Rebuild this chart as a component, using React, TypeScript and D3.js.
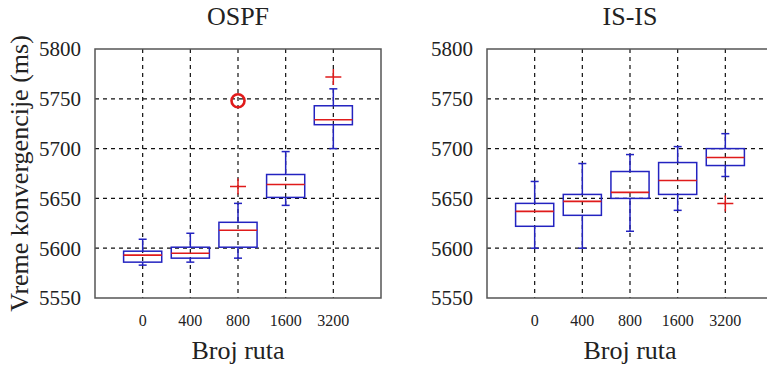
import React from 'react';
import * as d3 from 'd3';

// x categories (number of routes)
const categories = ['0', '400', '800', '1600', '3200'];
const yTicks = [5550, 5600, 5650, 5700, 5750, 5800];

// OSPF box statistics (ms)
const ospfLow = [5583, 5586, 5590, 5643, 5700];
const ospfQ1 = [5586, 5590, 5601, 5651, 5724];
const ospfMedian = [5593, 5595, 5618, 5664, 5729];
const ospfQ3 = [5597, 5601, 5626, 5674, 5743];
const ospfHigh = [5609, 5615, 5645, 5697, 5760];
const ospfOutliers = [[], [], [5662], [], [5772]];
const ospfCircle = { cat: 2, value: 5748 };

// IS-IS box statistics (ms)
const isisLow = [5600, 5600, 5617, 5638, 5672];
const isisQ1 = [5622, 5633, 5650, 5654, 5683];
const isisMedian = [5637, 5647, 5656, 5668, 5691];
const isisQ3 = [5645, 5654, 5677, 5686, 5700];
const isisHigh = [5667, 5685, 5694, 5702, 5715];
const isisOutliers = [[], [], [], [], [5645]];

const FONT = '"Liberation Serif", "DejaVu Serif", serif';
const BLUE = '#2323c0';
const RED = '#e01b1b';

type Panel = {
  title: string;
  left: number;
  low: number[];
  q1: number[];
  median: number[];
  q3: number[];
  high: number[];
  outliers: number[][];
  circle?: { cat: number; value: number };
};

const top = 49;
const bottom = 298;
const plotW = 286;

function BoxPanel({ p }: { p: Panel }) {
  const x = d3.scaleLinear().domain([0, 6]).range([p.left, p.left + plotW]);
  const y = d3.scaleLinear().domain([5550, 5800]).range([bottom, top]);
  const boxW = x(0.8) - x(0);
  const cap = 4;
  const cx = (i: number) => x(i + 1);

  return (
    <g>
      {/* grid */}
      {yTicks.slice(1, -1).map(t => (
        <line key={'gy' + t} x1={x(0)} x2={x(6)} y1={y(t)} y2={y(t)}
          stroke="#111" strokeWidth={1.2} strokeDasharray="4,4" />
      ))}
      {categories.map((c, i) => (
        <line key={'gx' + c} x1={cx(i)} x2={cx(i)} y1={y(5800)} y2={y(5550)}
          stroke="#111" strokeWidth={1.2} strokeDasharray="4,4" />
      ))}
      {/* frame */}
      <rect x={x(0)} y={top} width={plotW} height={bottom - top}
        fill="none" stroke="#555" strokeWidth={1.5} />
      {/* boxes */}
      {categories.map((c, i) => (
        <g key={'b' + c}>
          <line x1={cx(i)} x2={cx(i)} y1={y(p.high[i])} y2={y(p.q3[i])} stroke={BLUE} strokeWidth={1.5} />
          <line x1={cx(i)} x2={cx(i)} y1={y(p.q1[i])} y2={y(p.low[i])} stroke={BLUE} strokeWidth={1.5} />
          <line x1={cx(i) - cap} x2={cx(i) + cap} y1={y(p.high[i])} y2={y(p.high[i])} stroke={BLUE} strokeWidth={1.5} />
          <line x1={cx(i) - cap} x2={cx(i) + cap} y1={y(p.low[i])} y2={y(p.low[i])} stroke={BLUE} strokeWidth={1.5} />
          <rect x={cx(i) - boxW / 2} y={y(p.q3[i])} width={boxW} height={y(p.q1[i]) - y(p.q3[i])}
            fill="none" stroke={BLUE} strokeWidth={1.5} />
          <line x1={cx(i) - boxW / 2} x2={cx(i) + boxW / 2} y1={y(p.median[i])} y2={y(p.median[i])}
            stroke={RED} strokeWidth={1.6} />
          {p.outliers[i].map((v, k) => (
            <path key={k} d={`M${cx(i) - 8},${y(v)}H${cx(i) + 8}M${cx(i)},${y(v) - 8}V${y(v) + 8}`}
              stroke={RED} strokeWidth={1.5} fill="none" />
          ))}
        </g>
      ))}
      {p.circle && (
        <circle cx={cx(p.circle.cat)} cy={y(p.circle.value)} r={6.5}
          fill="none" stroke={RED} strokeWidth={2.6} />
      )}
      {/* y ticks */}
      {yTicks.map(t => (
        <text key={'ty' + t} x={x(0) - 14} y={y(t)} dy="0.35em" textAnchor="end"
          fontFamily={FONT} fontSize={21} fill="#222">{t}</text>
      ))}
      {/* x ticks */}
      {categories.map((c, i) => (
        <text key={'tx' + c} x={cx(i)} y={326} textAnchor="middle"
          fontFamily={FONT} fontSize={16} fill="#222">{c}</text>
      ))}
      <text x={x(3)} y={25} textAnchor="middle" fontFamily={FONT} fontSize={26} fill="#222">{p.title}</text>
      <text x={x(3)} y={359} textAnchor="middle" fontFamily={FONT} fontSize={26} fill="#222">Broj ruta</text>
    </g>
  );
}

const panels: Panel[] = [
  { title: 'OSPF', left: 95, low: ospfLow, q1: ospfQ1, median: ospfMedian, q3: ospfQ3, high: ospfHigh, outliers: ospfOutliers, circle: ospfCircle },
  { title: 'IS-IS', left: 487, low: isisLow, q1: isisQ1, median: isisMedian, q3: isisQ3, high: isisHigh, outliers: isisOutliers },
];

export default function App() {
  return (
    <svg width={767} height={368} style={{ position: 'absolute', left: 0, top: 0, background: '#fff' }}>
      {panels.map(p => <BoxPanel key={p.title} p={p} />)}
      <text transform={`translate(28,${(top + bottom) / 2}) rotate(-90)`} textAnchor="middle"
        fontFamily={FONT} fontSize={26} fill="#222">Vreme konvergencije (ms)</text>
    </svg>
  );
}
